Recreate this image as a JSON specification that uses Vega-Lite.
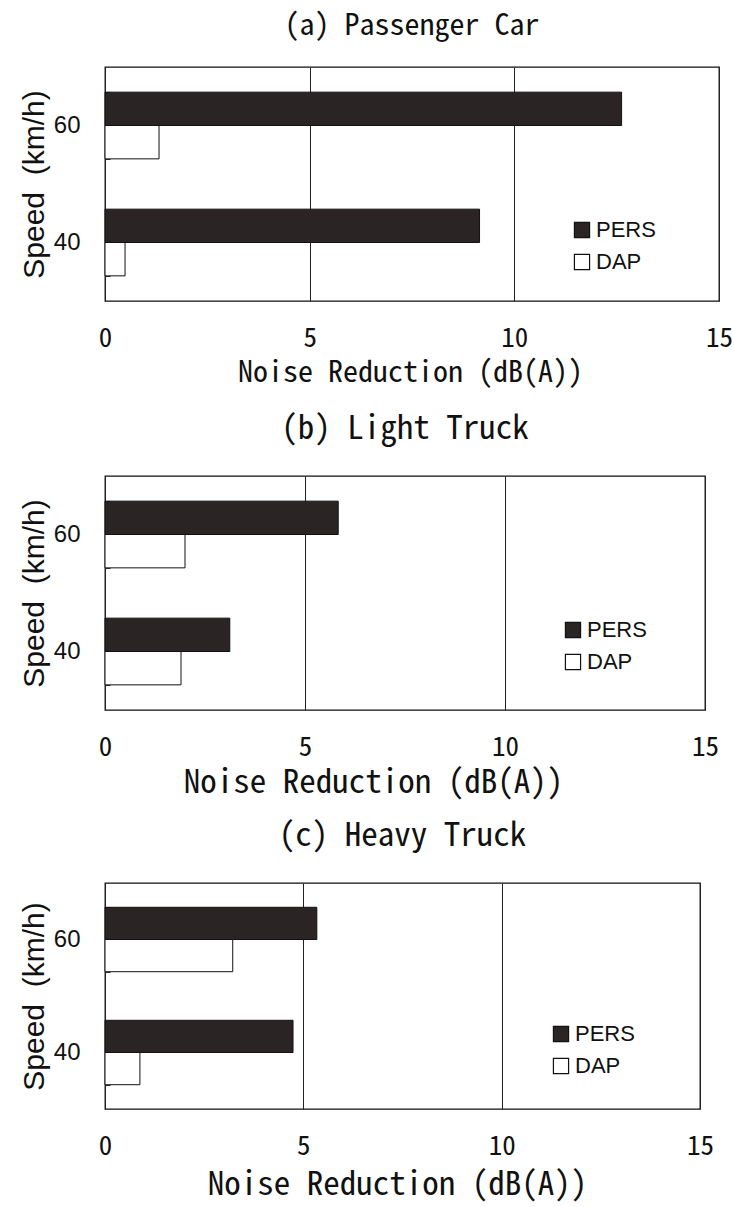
{
  "$schema": "https://vega.github.io/schema/vega-lite/v6.json",
  "padding": {"left": 18, "top": 10, "right": 0, "bottom": 0},
  "background": "white",
  "spacing": 19,
  "config": {
    "view": {"stroke": "#111", "strokeWidth": 1.3},
    "font": "Liberation Sans",
    "title": {"font": "Noto Sans Mono CJK JP, Liberation Mono", "fontWeight": "normal", "color": "#111", "anchor": "middle"},
    "axisX": {
      "grid": true, "gridColor": "#222", "gridWidth": 1, "gridOpacity": 1,
      "ticks": false, "domain": false,
      "labelFont": "Noto Sans Mono CJK JP, Liberation Mono", "labelFontSize": 27, "labelColor": "#111", "labelPadding": 24,
      "titleFont": "Noto Sans Mono CJK JP, Liberation Mono", "titleFontWeight": "normal", "titleColor": "#111", "titlePadding": 6,
      "labelFlush": false
    },
    "axisY": {
      "domain": false, "grid": false,
      "ticks": true, "tickBand": "extent", "tickSize": -5, "tickColor": "#333",
      "labelFont": "Liberation Sans", "labelFontSize": 24, "labelColor": "#111", "labelPadding": 30, "labelAngle": 0,
      "titleFont": "Liberation Sans", "titleFontSize": 30, "titleFontWeight": "normal", "titleColor": "#111", "titlePadding": 4
    },
    "legend": {
      "title": null, "orient": "none", "symbolType": "square", "symbolSize": 230,
      "symbolStrokeColor": "#111", "symbolStrokeWidth": 1.2,
      "labelFont": "Liberation Sans", "labelFontSize": 22, "labelColor": "#111",
      "labelOffset": 3, "rowPadding": 10
    }
  },
  "data": {
    "values": [
      {"panel": "a", "speed": "60", "series": "PERS", "value": 12.62},
      {"panel": "a", "speed": "60", "series": "DAP", "value": 1.32},
      {"panel": "a", "speed": "40", "series": "PERS", "value": 9.15},
      {"panel": "a", "speed": "40", "series": "DAP", "value": 0.49},
      {"panel": "b", "speed": "60", "series": "PERS", "value": 5.83},
      {"panel": "b", "speed": "60", "series": "DAP", "value": 2.0},
      {"panel": "b", "speed": "40", "series": "PERS", "value": 3.12},
      {"panel": "b", "speed": "40", "series": "DAP", "value": 1.9},
      {"panel": "c", "speed": "60", "series": "PERS", "value": 5.34},
      {"panel": "c", "speed": "60", "series": "DAP", "value": 3.22},
      {"panel": "c", "speed": "40", "series": "PERS", "value": 4.74},
      {"panel": "c", "speed": "40", "series": "DAP", "value": 0.88}
    ]
  },
  "vconcat": [
    {
      "title": {"text": "(a) Passenger Car", "fontSize": 30, "offset": 14},
      "width": 614, "height": 234,
      "transform": [{"filter": "datum.panel === 'a'"}],
      "mark": {"type": "bar", "stroke": "#111", "strokeWidth": 1},
      "encoding": {
        "y": {"field": "speed", "type": "nominal", "sort": ["60", "40"], "scale": {"paddingInner": 0.43, "paddingOuter": 0.215}, "axis": {"title": "Speed\u00a0\u00a0(km/h)"}},
        "yOffset": {"field": "series", "type": "nominal", "sort": ["PERS", "DAP"], "scale": {"paddingInner": 0, "paddingOuter": 0}},
        "x": {"field": "value", "type": "quantitative", "scale": {"domain": [0, 15]}, "axis": {"values": [0, 5, 10, 15], "title": ["Noise Reduction (dB(A))", ""], "titleLineHeight": 5, "titleFontSize": 30, "titleX": 305}},
        "color": {"field": "series", "type": "nominal", "sort": ["PERS", "DAP"], "scale": {"domain": ["PERS", "DAP"], "range": ["#2b2424", "#ffffff"]}, "legend": {"legendX": 466, "legendY": 152}}
      }
    },
    {
      "title": {"text": "(b) Light Truck", "fontSize": 33, "offset": 18},
      "width": 600, "height": 234,
      "transform": [{"filter": "datum.panel === 'b'"}],
      "mark": {"type": "bar", "stroke": "#111", "strokeWidth": 1},
      "encoding": {
        "y": {"field": "speed", "type": "nominal", "sort": ["60", "40"], "scale": {"paddingInner": 0.43, "paddingOuter": 0.215}, "axis": {"title": "Speed\u00a0\u00a0(km/h)"}},
        "yOffset": {"field": "series", "type": "nominal", "sort": ["PERS", "DAP"], "scale": {"paddingInner": 0, "paddingOuter": 0}},
        "x": {"field": "value", "type": "quantitative", "scale": {"domain": [0, 15]}, "axis": {"values": [0, 5, 10, 15], "title": "Noise Reduction (dB(A))", "titleFontSize": 33, "titleX": 268}},
        "color": {"field": "series", "type": "nominal", "sort": ["PERS", "DAP"], "scale": {"domain": ["PERS", "DAP"], "range": ["#2b2424", "#ffffff"]}, "legend": {"legendX": 457, "legendY": 143}}
      }
    },
    {
      "title": {"text": "(c) Heavy Truck", "fontSize": 33, "offset": 18},
      "width": 595, "height": 226,
      "transform": [{"filter": "datum.panel === 'c'"}],
      "mark": {"type": "bar", "stroke": "#111", "strokeWidth": 1},
      "encoding": {
        "y": {"field": "speed", "type": "nominal", "sort": ["60", "40"], "scale": {"paddingInner": 0.43, "paddingOuter": 0.215}, "axis": {"title": "Speed\u00a0\u00a0(km/h)"}},
        "yOffset": {"field": "series", "type": "nominal", "sort": ["PERS", "DAP"], "scale": {"paddingInner": 0, "paddingOuter": 0}},
        "x": {"field": "value", "type": "quantitative", "scale": {"domain": [0, 15]}, "axis": {"values": [0, 5, 10, 15], "title": "Noise Reduction (dB(A))", "titleFontSize": 33, "titleX": 292, "titlePadding": 9}},
        "color": {"field": "series", "type": "nominal", "sort": ["PERS", "DAP"], "scale": {"domain": ["PERS", "DAP"], "range": ["#2b2424", "#ffffff"]}, "legend": {"legendX": 445, "legendY": 140}}
      }
    }
  ],
  "resolve": {"scale": {"color": "independent", "y": "independent", "x": "independent", "yOffset": "independent"}, "legend": {"color": "independent"}}
}
